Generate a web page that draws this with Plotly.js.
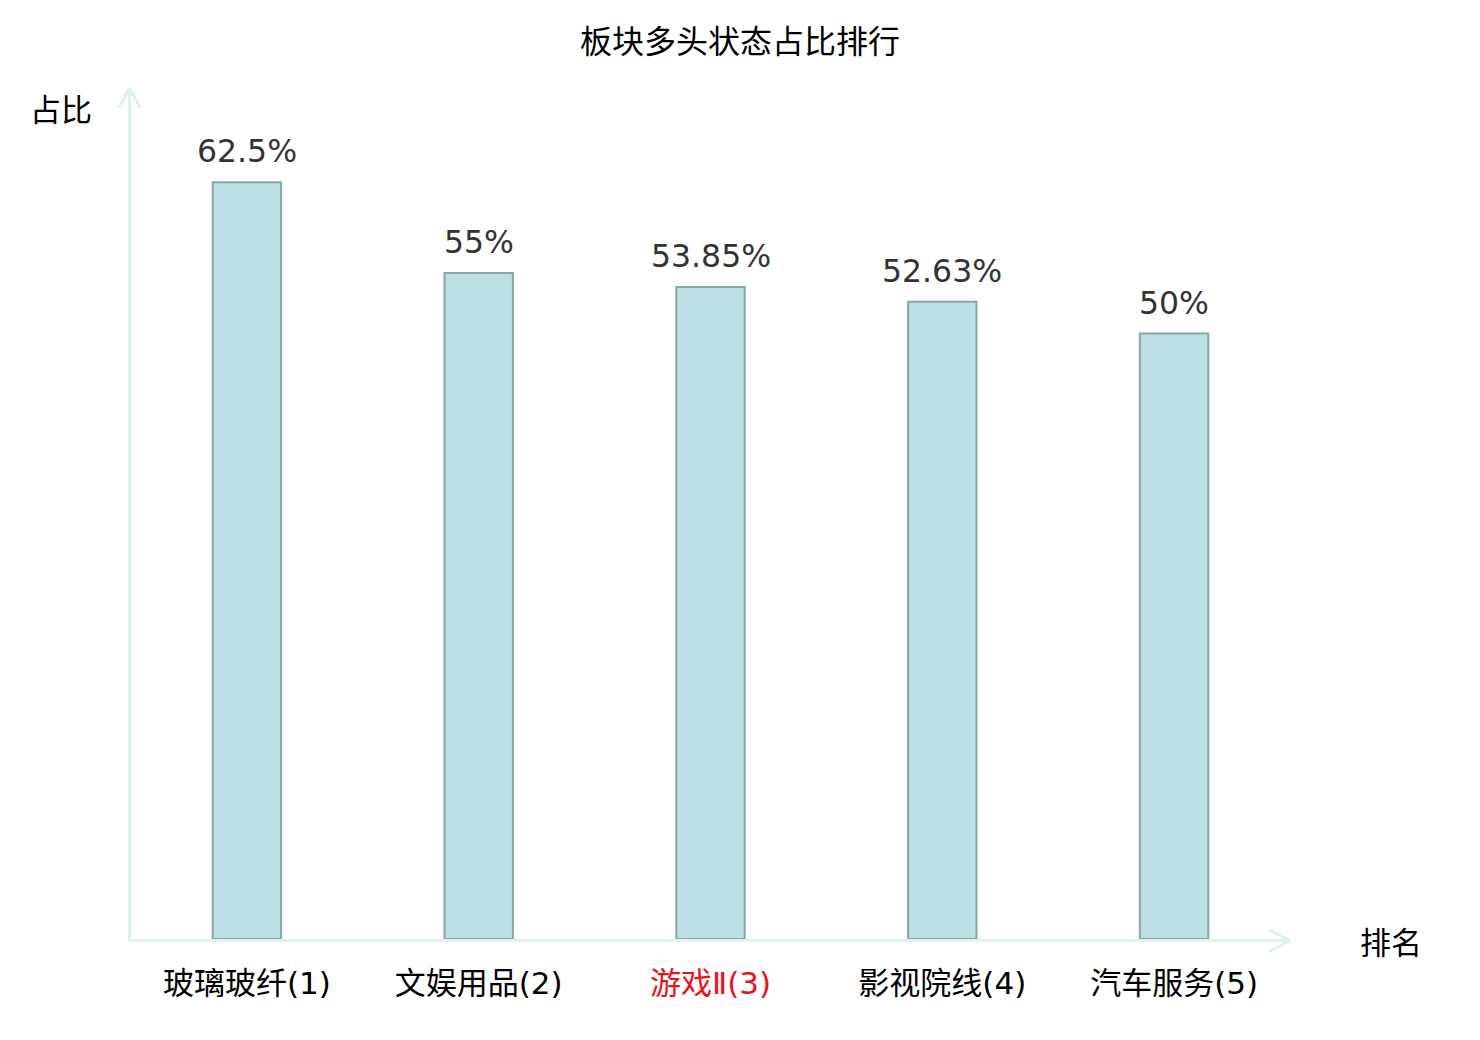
<!DOCTYPE html>
<html>
<head>
<meta charset="utf-8">
<script src="https://cdn.plot.ly/plotly-3.0.1.min.js"></script>
<style>html,body{margin:0;padding:0;background:#fff;}#chart{width:1480px;height:1040px;}</style>
</head>
<body>
<div id="chart"></div>
<script>
const categories = ["玻璃玻纤(1)", "文娱用品(2)", "游戏Ⅱ(3)", "影视院线(4)", "汽车服务(5)"];
const values = [62.5, 55, 53.85, 52.63, 50];
const valueLabels = ["62.5%", "55%", "53.85%", "52.63%", "50%"];
const highlightIndex = 2;

const cjk = '"Noto Sans CJK SC", "Noto Sans", sans-serif';
const tickFamily = '"DejaVu Sans ExtraLight", "DejaVu Sans", "Noto Sans CJK SC", sans-serif';
const axisColor = '#dff2ef';

const tickText = categories.map((c, i) =>
  i === highlightIndex ? '<span style="color:#e8141b">' + c + '</span>' : c);

const trace = {
  type: 'bar',
  x: categories,
  y: values,
  width: 0.295,
  marker: { color: '#bce0e3', line: { color: '#88a6a6', width: 2 } },
  hoverinfo: 'skip'
};

const annotations = values.map((v, i) => ({
  x: categories[i], y: v, xref: 'x', yref: 'y',
  text: valueLabels[i], showarrow: false,
  yanchor: 'middle', yshift: 31,
  font: { family: '"DejaVu Sans", sans-serif', size: 31.5, color: '#333333' }
}));
annotations.push({
  xref: 'paper', yref: 'paper', x: -0.06, y: 0.978, xanchor: 'center', yanchor: 'middle',
  text: '占比', showarrow: false, font: { family: cjk, size: 31, color: '#000' }
});
annotations.push({
  xref: 'paper', yref: 'paper', x: 1.0875, y: -0.002, xanchor: 'center', yanchor: 'middle',
  text: '排名', showarrow: false, font: { family: cjk, size: 31, color: '#000' }
});

const W = 1160, H = 850;
const shapes = [
  { type: 'line', xref: 'paper', yref: 'paper', x0: 1, y0: -0.002, x1: 1 - 21 / W, y1: -0.002 + 11 / H, line: { color: axisColor, width: 3 } },
  { type: 'line', xref: 'paper', yref: 'paper', x0: 1, y0: -0.002, x1: 1 - 21 / W, y1: -0.002 - 11 / H, line: { color: axisColor, width: 3 } },
  { type: 'line', xref: 'paper', yref: 'paper', x0: -0.0013, y0: 1.001, x1: -0.0013 - 11 / W, y1: 1.001 - 20 / H, line: { color: axisColor, width: 3 } },
  { type: 'line', xref: 'paper', yref: 'paper', x0: -0.0013, y0: 1.001, x1: -0.0013 + 11 / W, y1: 1.001 - 20 / H, line: { color: axisColor, width: 3 } }
];

const layout = {
  width: 1480, height: 1040,
  margin: { l: 131, r: 190, t: 89, b: 101 },
  paper_bgcolor: '#ffffff', plot_bgcolor: '#ffffff',
  showlegend: false,
  title: {
    text: '板块多头状态占比排行', x: 0.5, xanchor: 'center',
    y: 1 - 42 / 1040, yref: 'container', yanchor: 'middle',
    font: { family: cjk, size: 32, color: '#000' }
  },
  xaxis: {
    type: 'category', range: [-0.5, 4.5],
    tickvals: categories, ticktext: tickText,
    showline: true, linecolor: axisColor, linewidth: 3,
    showgrid: false, zeroline: false, ticks: '',
    ticklabelstandoff: 15,
    tickfont: { family: tickFamily, size: 31, color: '#000' }
  },
  yaxis: {
    range: [0, 70.2], showline: true, linecolor: axisColor, linewidth: 3,
    showgrid: false, zeroline: false, showticklabels: false, ticks: ''
  },
  annotations: annotations,
  shapes: shapes
};

Plotly.newPlot('chart', [trace], layout, { displayModeBar: false, staticPlot: true });
</script>
</body>
</html>
